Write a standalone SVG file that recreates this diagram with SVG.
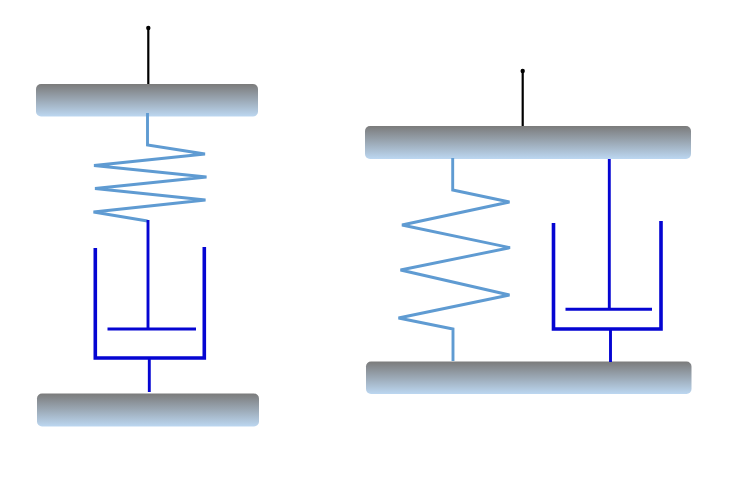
<svg xmlns="http://www.w3.org/2000/svg" width="740" height="493" viewBox="0 0 740 493">
<style>
.bar{fill:url(#g)}
.l{fill:none;stroke-linejoin:miter;stroke-linecap:butt}
.k{stroke:#000;stroke-width:2.2}
.s{stroke:#5f9bd2;stroke-width:2.9}
.d{stroke:#0505d2;stroke-width:2.9}
.c{stroke:#0505d2;stroke-width:3.6}
</style>
<defs>
<linearGradient id="g" x1="0" y1="0" x2="0" y2="1">
<stop offset="0" stop-color="#7b7b7b"/>
<stop offset="1" stop-color="#bcd7f1"/>
</linearGradient>
<marker id="dot" markerWidth="6" markerHeight="6" refX="3" refY="3" markerUnits="userSpaceOnUse">
<circle cx="3" cy="3" r="2.200" fill="#000"/>
</marker>
</defs>
<rect width="740" height="493" fill="#fff"/>
<g id="plate-left-top"><rect class="bar" x="36" y="84" width="222" height="32.500" rx="5"/></g>
<g id="plate-left-bottom"><rect class="bar" x="37" y="393.500" width="222" height="33" rx="5"/></g>
<g id="plate-right-top"><rect class="bar" x="365" y="126" width="326" height="33" rx="5"/></g>
<g id="plate-right-bottom"><rect class="bar" x="366" y="361.500" width="325.500" height="32.500" rx="5"/></g>
<g id="connectors">
<path class="l k" d="M148.300 84V28" marker-end="url(#dot)"/>
<path class="l k" d="M522.700 126V71" marker-end="url(#dot)"/>
<path class="l s" d="M147.500 113V145L205 154 94 165.500 206.500 177 95 188.500 205.500 200 93.500 212 147.500 221"/>
<path class="l d" d="M148 220V329"/>
<path class="l d" d="M107.500 329H196"/>
<path class="l c" d="M95.300 248V358H204.300V247"/>
<path class="l d" d="M149.300 358V392"/>
<path class="l s" d="M452.700 158V190L509.500 202 402 225 510 247.700 400.500 270 509.500 295 398.500 318 453 329V361"/>
<path class="l d" d="M609.300 159V310"/>
<path class="l d" d="M565.500 309.300H652"/>
<path class="l c" d="M553.500 223V329H661V221"/>
<path class="l d" d="M610.500 329V362"/>
</g>
</svg>
